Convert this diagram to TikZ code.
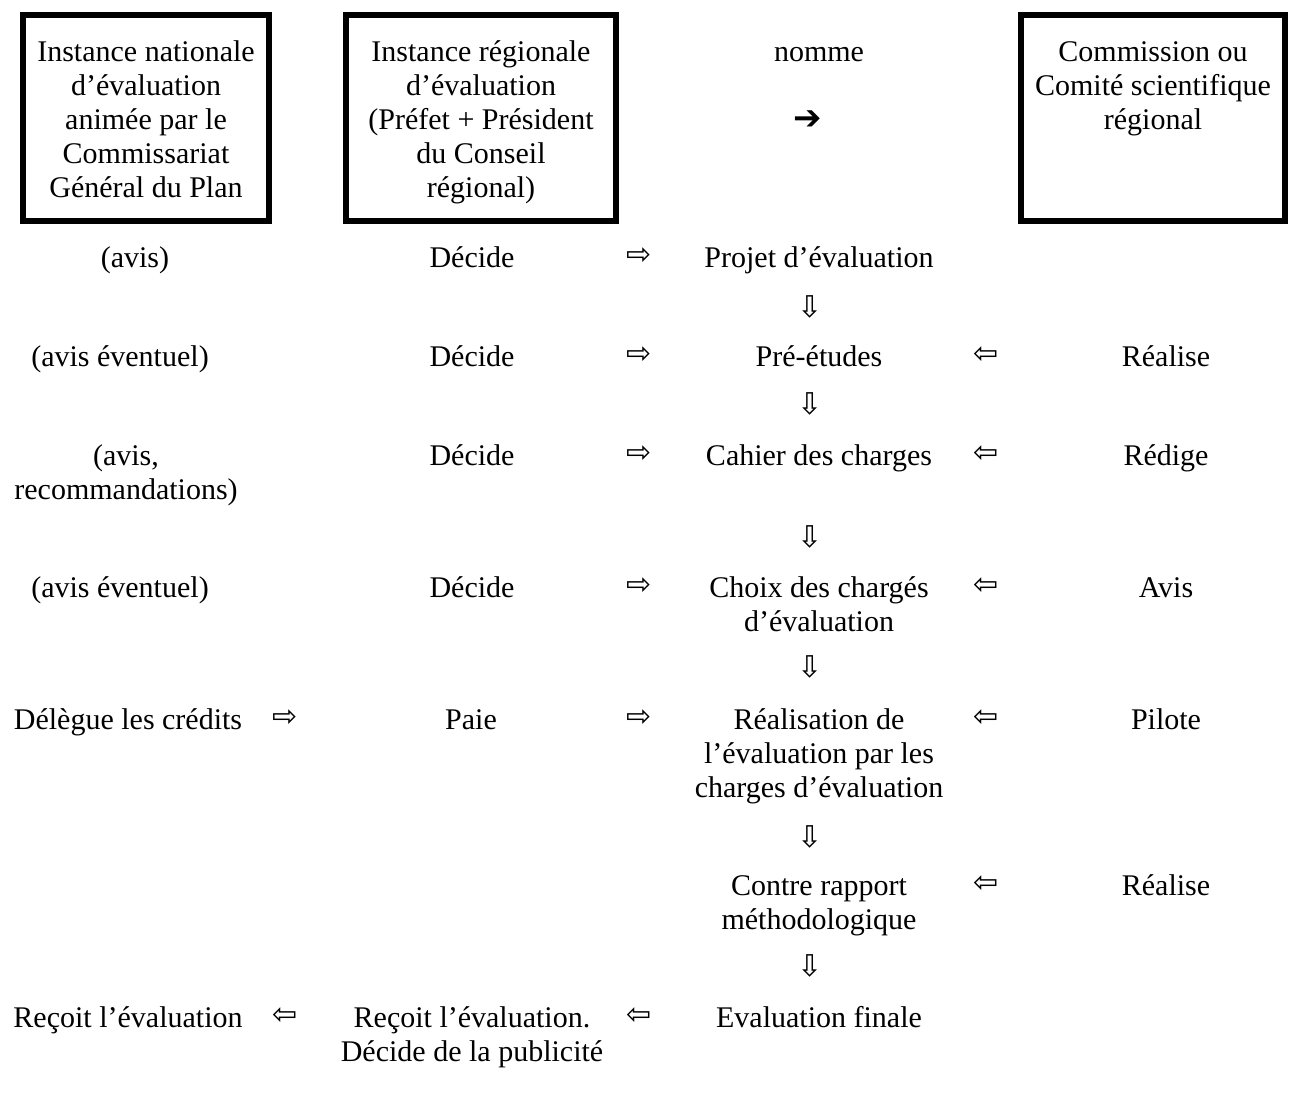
\documentclass[tikz,border=0pt]{standalone}
\usepackage{fontspec}
\setmainfont{Liberation Serif}
\newfontfamily\symfont{DejaVu Sans}
\usepackage{tikz}
\usetikzlibrary{positioning}
\tikzset{every node/.append style={inner sep=0pt, outer sep=0pt}}
\tikzset{txt/.style={font=\fontsize{15}{17}\selectfont, align=center, anchor=base},
         arr/.style={font=\symfont\fontsize{15}{15}\selectfont},
         hdrbox/.style={draw, line width=3pt, minimum height=103pt}}

\begin{document}
\begin{tikzpicture}[x=0.5pt, y=-0.5pt]
\useasboundingbox (0, 0) rectangle (1289, 1099);

%headers
\node[hdrbox, minimum width = 123pt] (nat) at (146, 118) {};
\node[txt] (natlbl) at (146, 197) {Instance nationale\\d’évaluation\\animée par le\\Commissariat\\Général du Plan};
\node[hdrbox, minimum width = 135pt] (reg) at (481, 118) {};
\node[txt] (reglbl) at (481, 197) {Instance régionale\\d’évaluation\\(Préfet + Président\\du Conseil\\régional)};
\node[txt] (nomme) at (819, 61) {nomme};
\node[font = \symfont\fontsize{17}{17}\selectfont] (nommearr) at (808, 120) {➔};
\node[hdrbox, minimum width = 132pt] (com) at (1153, 118) {};
\node[txt] (comlbl) at (1153, 129) {Commission ou\\Comité scientifique\\régional};

%row 1
\node[txt] (avis1) at (135, 267) {(avis)};
\node[txt] (decide1) at (472, 267) {Décide};
\node[arr] (to1) at (639, 256) {⇨};
\node[txt] (projet) at (819, 267) {Projet d’évaluation};
\node[arr] (down1) at (810, 307) {⇩};

%row 2
\node[txt] (avis2) at (120, 366) {(avis éventuel)};
\node[txt] (decide2) at (472, 366) {Décide};
\node[arr] (to2) at (639, 355) {⇨};
\node[txt] (preetudes) at (819, 366) {Pré-études};
\node[arr] (from2) at (986, 355) {⇦};
\node[txt] (realise2) at (1166, 366) {Réalise};
\node[arr] (down2) at (810, 404) {⇩};

%row 3
\node[txt] (avis3) at (126, 499) {(avis,\\recommandations)};
\node[txt] (decide3) at (472, 465) {Décide};
\node[arr] (to3) at (639, 454) {⇨};
\node[txt] (cahier) at (819, 465) {Cahier des charges};
\node[arr] (from3) at (986, 454) {⇦};
\node[txt] (redige) at (1166, 465) {Rédige};
\node[arr] (down3) at (810, 537) {⇩};

%row 4
\node[txt] (avis4) at (120, 597) {(avis éventuel)};
\node[txt] (decide4) at (472, 597) {Décide};
\node[arr] (to4) at (639, 586) {⇨};
\node[txt] (choix) at (819, 631) {Choix des chargés\\d’évaluation};
\node[arr] (from4) at (986, 586) {⇦};
\node[txt] (avis4r) at (1166, 597) {Avis};
\node[arr] (down4) at (810, 667) {⇩};

%row 5
\node[txt] (delegue) at (128, 729) {Délègue les crédits};
\node[arr] (to5a) at (285, 718) {⇨};
\node[txt] (paie) at (471, 729) {Paie};
\node[arr] (to5b) at (639, 718) {⇨};
\node[txt] (realisation) at (819, 797) {Réalisation de\\l’évaluation par les\\charges d’évaluation};
\node[arr] (from5) at (986, 718) {⇦};
\node[txt] (pilote) at (1166, 729) {Pilote};
\node[arr] (down5) at (810, 837) {⇩};

%row 6
\node[txt] (contre) at (819, 929) {Contre rapport\\méthodologique};
\node[arr] (from6) at (986, 884) {⇦};
\node[txt] (realise6) at (1166, 895) {Réalise};
\node[arr] (down6) at (810, 966) {⇩};

%row 7
\node[txt] (recoit1) at (128, 1027) {Reçoit l’évaluation};
\node[arr] (from7a) at (285, 1016) {⇦};
\node[txt] (recoit2) at (472, 1061) {Reçoit l’évaluation.\\Décide de la publicité};
\node[arr] (from7b) at (639, 1016) {⇦};
\node[txt] (finale) at (819, 1027) {Evaluation finale};
\end{tikzpicture}
\end{document}
